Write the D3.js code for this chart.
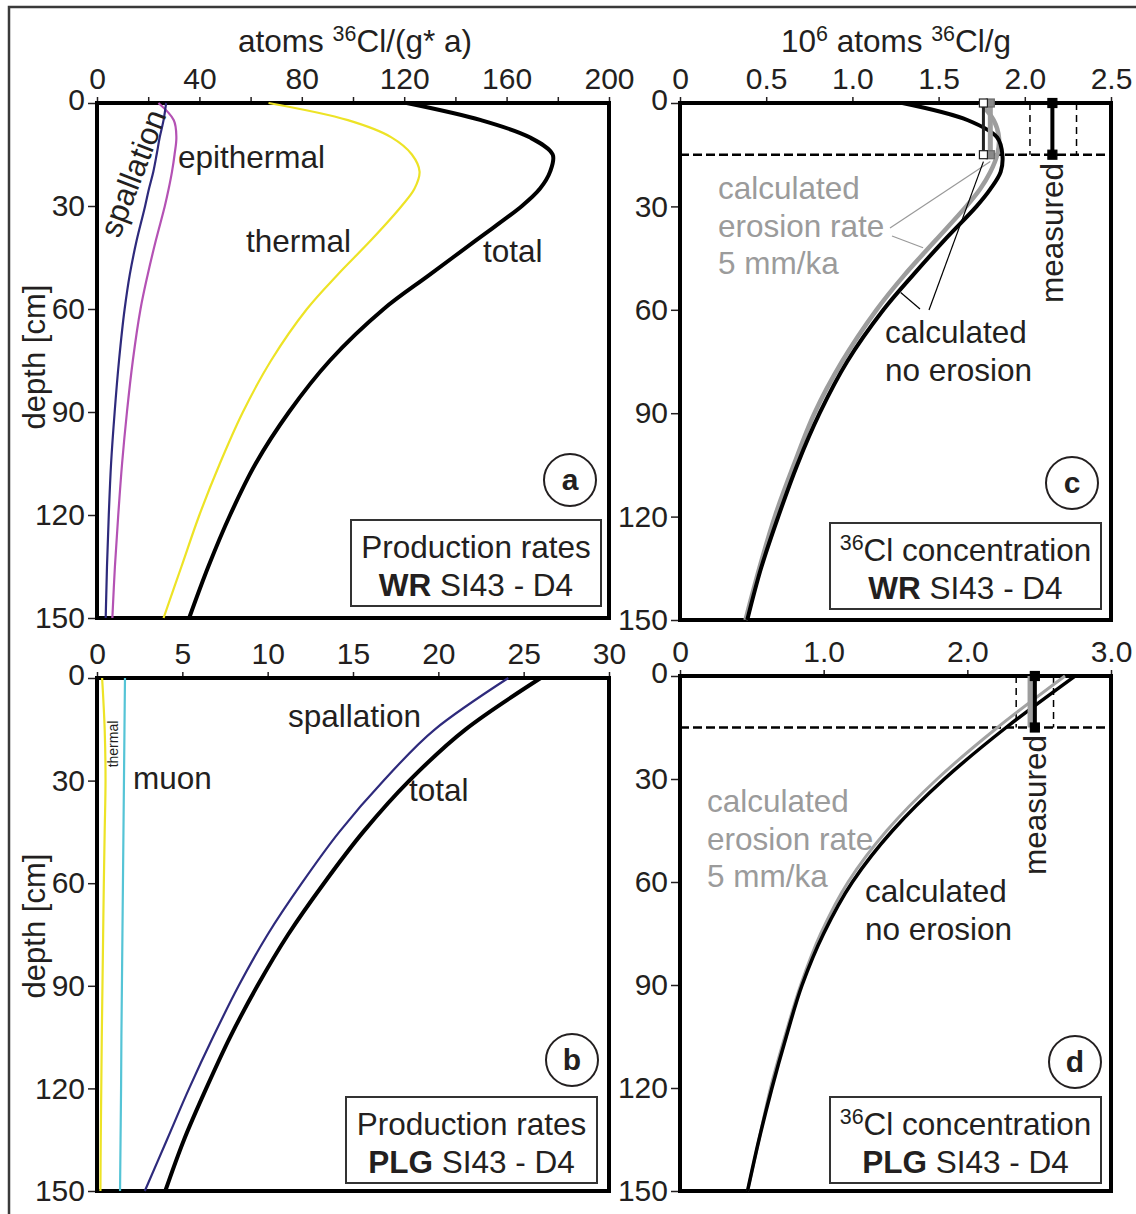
<!DOCTYPE html>
<html><head><meta charset="utf-8">
<script src="https://cdn.jsdelivr.net/npm/d3@7/dist/d3.min.js"></script>
<style>body{margin:0;background:#fff}</style>
</head><body>
<script>
// ---------- data ----------
const depthTicks = [0, 30, 60, 90, 120, 150];

// panel a: production rates WR (atoms 36Cl/(g a))
const depthA = [0, 5, 10, 15, 20, 25, 30, 40, 50, 60, 75, 90, 105, 120, 135, 150];
const spallA = [27, 26, 24.5, 23.3, 22, 20.3, 18.8, 15.5, 12.8, 10.8, 8.6, 6.9, 5.5, 4.6, 3.9, 3.4];
const epiA   = [24, 30, 31, 30.3, 29.3, 28, 26.5, 23, 19.8, 17, 14, 11.7, 9.8, 8.3, 7, 6];
const thermA = [67, 98, 115, 123, 126, 124, 119, 107, 94, 82, 68, 57, 48, 40, 33, 26];
const totalA = [121, 150, 169, 178, 177, 173, 166, 148, 130, 112, 91, 75, 62, 52, 43.5, 36];
const ticksA = [0, 20, 40, 60, 80, 100, 120, 140, 160, 180, 200];
const labelsA = [0, 40, 80, 120, 160, 200];

// panel b: production rates PLG
const depthB = [0, 15, 30, 45, 60, 75, 90, 105, 120, 135, 150];
const spallB = [24.1, 19.8, 16.8, 14.2, 12.0, 10.0, 8.3, 6.8, 5.4, 4.1, 2.8];
const totalB = [26.0, 21.6, 18.3, 15.6, 13.3, 11.2, 9.4, 7.8, 6.4, 5.1, 4.0];
const thermB = [0.3, 0.45, 0.5, 0.45, 0.4, 0.36, 0.32, 0.28, 0.25, 0.22, 0.2];
const muonB  = [1.64, 1.61, 1.58, 1.55, 1.52, 1.49, 1.46, 1.43, 1.41, 1.38, 1.35];
const ticksB = [0, 5, 10, 15, 20, 25, 30];

// panel c: 36Cl concentration WR (10^6 atoms/g)
const depthC = [0, 5, 10, 15, 20, 25, 30, 40, 50, 60, 75, 90, 105, 120, 135, 150];
const noErosionC = [1.29, 1.67, 1.84, 1.87, 1.86, 1.80, 1.72, 1.53, 1.35, 1.18, 0.97, 0.81, 0.68, 0.57, 0.47, 0.39];
const erosionC   = [1.74, 1.82, 1.85, 1.84, 1.80, 1.74, 1.66, 1.48, 1.30, 1.14, 0.94, 0.78, 0.66, 0.55, 0.46, 0.38];
const measuredC = [2.03, 2.16, 2.30];      // low, value, high
const calcBarsC = [1.76, 1.79];            // no erosion, erosion
const ticksC = [0, 0.5, 1.0, 1.5, 2.0, 2.5];

// panel d: 36Cl concentration PLG
const depthD = [0, 15, 30, 45, 60, 75, 90, 105, 120, 135, 150];
const noErosionD = [2.75, 2.27, 1.84, 1.48, 1.20, 1.00, 0.85, 0.74, 0.64, 0.55, 0.47];
const erosionD   = [2.68, 2.21, 1.79, 1.44, 1.17, 0.98, 0.84, 0.73, 0.63, 0.55, 0.47];
const measuredD = [2.34, 2.46, 2.60];
const calcBarsD = [2.44];
const ticksD = [0, 1.0, 2.0, 3.0];

const sampleDepth = [0, 15];

// ---------- drawing ----------
const FONT = "'Liberation Sans', Arial, Helvetica, sans-serif";
const INK = "#231f20";
const GREY = "#9b9b9b";
const LS = 31.5; // label font size
const svg = d3.select("body").append("svg")
  .attr("width", 1136).attr("height", 1214)
  .style("font-family", FONT);

// outer frame (only left & top visible)
svg.append("path").attr("d", "M9,1214V7H1136").attr("fill", "none")
  .attr("stroke", "#3a3a3a").attr("stroke-width", 2.5);

function rich(g, x, y, parts, size, anchor, fill, transform) {
  const t = g.append("text").attr("font-size", size).attr("fill", fill || INK)
    .attr("text-anchor", anchor || "start");
  if (transform) t.attr("transform", transform); else t.attr("x", x).attr("y", y);
  let shift = 0;
  parts.forEach(p => {
    const ts = t.append("tspan").text(p.t);
    if (p.sup) {
      ts.attr("font-size", size * 0.68).attr("dy", -11 - shift); shift = -11;
    } else {
      if (shift !== 0) { ts.attr("dy", -shift); shift = 0; }
    }
    if (p.b) ts.attr("font-weight", "bold");
  });
  return t;
}

function makePanel(cfg) {
  const x = d3.scaleLinear().domain(cfg.xdom).range([cfg.x0, cfg.x1]);
  const y = d3.scaleLinear().domain([0, 150]).range([cfg.y0, cfg.y1]);
  const g = svg.append("g");

  const ax = g.append("g").attr("transform", `translate(0,${cfg.y0})`)
    .call(d3.axisTop(x).tickValues(cfg.ticks).tickSize(6).tickPadding(8).tickSizeOuter(0)
      .tickFormat(d => cfg.labels.includes(d) ? cfg.fmt(d) : ""));
  ax.select(".domain").remove();
  ax.selectAll("line").attr("stroke", INK).attr("stroke-width", 1.5);
  ax.selectAll("text").attr("font-size", 30).attr("font-family", FONT).attr("fill", INK);

  const ay = g.append("g").attr("transform", `translate(${cfg.x0},0)`)
    .call(d3.axisLeft(y).tickValues(depthTicks).tickSize(9).tickPadding(3).tickSizeOuter(0));
  ay.select(".domain").remove();
  ay.selectAll("line").attr("stroke", INK).attr("stroke-width", 1.5);
  ay.selectAll("text").attr("font-size", 30).attr("font-family", FONT).attr("fill", INK);
  ay.selectAll(".tick").filter(d => d === 0).select("text").attr("dy", "0.2em");

  g.append("rect").attr("x", cfg.x0).attr("y", cfg.y0)
    .attr("width", cfg.x1 - cfg.x0).attr("height", cfg.y1 - cfg.y0)
    .attr("fill", "none").attr("stroke", "#000").attr("stroke-width", 4);
  return { x, y, g };
}

function curve(p, depths, vals, color, width, peaked) {
  const line = d3.line().x(d => p.x(d[1])).y(d => p.y(d[0]))
    .curve(peaked ? d3.curveCatmullRom.alpha(0.5) : d3.curveMonotoneY);
  p.g.append("path").datum(depths.map((z, i) => [z, vals[i]])).attr("d", line)
    .attr("fill", "none").attr("stroke", color).attr("stroke-width", width)
    .attr("stroke-linejoin", "round");
}

function legendBox(g, x, y, w, h, line1, line2) {
  g.append("rect").attr("x", x).attr("y", y).attr("width", w).attr("height", h)
    .attr("fill", "#fff").attr("stroke", "#333").attr("stroke-width", 2);
  rich(g, x + w / 2, y + 38, line1, LS, "middle");
  rich(g, x + w / 2, y + 76, line2, LS, "middle");
}
function circleLabel(g, cx, cy, letter) {
  g.append("circle").attr("cx", cx).attr("cy", cy).attr("r", 26)
    .attr("fill", "#fff").attr("stroke", INK).attr("stroke-width", 2);
  g.append("text").attr("x", cx).attr("y", cy + 10).attr("text-anchor", "middle")
    .attr("font-size", 30).attr("font-weight", "bold").attr("fill", INK).text(letter);
}
function label(g, x, y, txt, size, fill, transform) {
  const t = g.append("text").attr("font-size", size).attr("fill", fill || INK).text(txt);
  if (transform) t.attr("transform", transform); else t.attr("x", x).attr("y", y);
  return t;
}

const fmtInt = d => String(d);
const fmt1 = d => d === 0 ? "0" : d.toFixed(1);

// ---- panel a ----
const pa = makePanel({ x0: 97, x1: 609, y0: 103, y1: 618, xdom: [0, 200], ticks: ticksA, labels: labelsA, fmt: fmtInt });
curve(pa, depthA, thermA, "#ede326", 2.2, true);
curve(pa, depthA, epiA, "#b452b4", 2.2, true);
curve(pa, depthA, spallA, "#2e2a7c", 2.2);
curve(pa, depthA, totalA, "#000", 4, true);
rich(svg, 355, 52, [{ t: "atoms " }, { t: "36", sup: 1 }, { t: "Cl/(g* a)" }], LS, "middle");
label(svg, 0, 0, "depth [cm]", 31, INK, "translate(45,357) rotate(-90)").attr("text-anchor", "middle");
label(pa.g, 0, 0, "spallation", LS, INK, "translate(143,177) rotate(-69)").attr("text-anchor", "middle");
label(pa.g, 178, 168, "epithermal", LS);
label(pa.g, 246, 252, "thermal", LS);
label(pa.g, 483, 262, "total", LS);
circleLabel(pa.g, 570, 480, "a");
legendBox(pa.g, 351, 520, 250, 86, [{ t: "Production rates" }], [{ t: "WR", b: 1 }, { t: " SI43 - D4" }]);

// ---- panel b ----
const pb = makePanel({ x0: 97, x1: 609, y0: 678, y1: 1191, xdom: [0, 30], ticks: ticksB, labels: ticksB, fmt: fmtInt });
curve(pb, depthB, thermB, "#ede326", 2.2, true);
curve(pb, depthB, muonB, "#55c4d6", 2.2);
curve(pb, depthB, spallB, "#2e2a7c", 2.2);
curve(pb, depthB, totalB, "#000", 4);
label(svg, 0, 0, "depth [cm]", 31, INK, "translate(45,926) rotate(-90)").attr("text-anchor", "middle");
label(pb.g, 288, 727, "spallation", LS);
label(pb.g, 409, 801, "total", LS);
label(pb.g, 133, 789, "muon", LS);
label(pb.g, 0, 0, "thermal", 14, INK, "translate(118,744) rotate(-90)").attr("text-anchor", "middle");
circleLabel(pb.g, 572, 1060, "b");
legendBox(pb.g, 346, 1097, 251, 86, [{ t: "Production rates" }], [{ t: "PLG", b: 1 }, { t: " SI43 - D4" }]);

// ---- measured / calculated bars ----
function measured(p, vals) {
  const g = p.g;
  const [lo, v, hi] = vals;
  g.append("line").attr("x1", p.x.range()[0]).attr("x2", p.x.range()[1])
    .attr("y1", p.y(sampleDepth[1])).attr("y2", p.y(sampleDepth[1]))
    .attr("stroke", "#000").attr("stroke-width", 2.5).attr("stroke-dasharray", "9,4");
  [lo, hi].forEach(d => g.append("line").attr("x1", p.x(d)).attr("x2", p.x(d))
    .attr("y1", p.y(sampleDepth[0])).attr("y2", p.y(sampleDepth[1]))
    .attr("stroke", "#000").attr("stroke-width", 1.5).attr("stroke-dasharray", "7,5"));
}
function bar(p, v, color, width, sqFill, sqStroke, size) {
  p.g.append("line").attr("x1", p.x(v)).attr("x2", p.x(v))
    .attr("y1", p.y(sampleDepth[0])).attr("y2", p.y(sampleDepth[1]))
    .attr("stroke", color).attr("stroke-width", width);
  if (size > 0) sampleDepth.forEach(z => p.g.append("rect")
    .attr("x", p.x(v) - size / 2).attr("y", p.y(z) - size / 2)
    .attr("width", size).attr("height", size)
    .attr("fill", sqFill).attr("stroke", sqStroke).attr("stroke-width", 1.2));
}

// ---- panel c ----
const pc = makePanel({ x0: 680, x1: 1111, y0: 103, y1: 620, xdom: [0, 2.5], ticks: ticksC, labels: ticksC, fmt: fmt1 });
measured(pc, measuredC);
curve(pc, depthC, erosionC, "#9d9d9d", 4.5, true);
curve(pc, depthC, noErosionC, "#000", 4, true);
bar(pc, calcBarsC[1] + 0.01, "#9d9d9d", 5, "#8a8a8a", "#6a6a6a", 8);
bar(pc, calcBarsC[0], "#222", 3, "#fff", "#222", 8);
bar(pc, measuredC[1], "#000", 4, "#000", "#000", 9);
rich(svg, 896, 52, [{ t: "10" }, { t: "6", sup: 1 }, { t: " atoms " }, { t: "36", sup: 1 }, { t: "Cl/g" }], LS, "middle");
label(pc.g, 0, 0, "measured", LS, INK, "translate(1063,233) rotate(-90)").attr("text-anchor", "middle");
label(pc.g, 718, 199, "calculated", LS, GREY);
label(pc.g, 718, 237, "erosion rate", LS, GREY);
label(pc.g, 718, 274, "5 mm/ka", LS, GREY);
label(pc.g, 885, 343, "calculated", LS);
label(pc.g, 885, 381, "no erosion", LS);
// leader lines
function leader(p, px, py, v, z, color) {
  p.g.append("line").attr("x1", px).attr("y1", py).attr("x2", p.x(v)).attr("y2", p.y(z))
    .attr("stroke", color).attr("stroke-width", 1.2);
}
leader(pc, 890, 228, calcBarsC[1] + 0.01, 17, "#999");
leader(pc, 892, 236, 1.41, 42, "#999");
leader(pc, 929, 310, calcBarsC[0], 17, "#000");
leader(pc, 920, 309, 1.28, 55, "#000");
circleLabel(pc.g, 1072, 483, "c");
legendBox(pc.g, 830, 523, 271, 86, [{ t: "36", sup: 1 }, { t: "Cl concentration" }], [{ t: "WR", b: 1 }, { t: " SI43 - D4" }]);

// ---- panel d ----
const pd = makePanel({ x0: 680, x1: 1111, y0: 676, y1: 1191, xdom: [0, 3.0], ticks: ticksD, labels: ticksD, fmt: fmt1 });
measured(pd, measuredD);
curve(pd, depthD, erosionD, "#a3a3a3", 3);
curve(pd, depthD, noErosionD, "#000", 3.5);
bar(pd, calcBarsD[0], "#9d9d9d", 6, "#8a8a8a", "#8a8a8a", 0);
bar(pd, measuredD[1] + 0.01, "#000", 4, "#000", "#000", 9);
label(pd.g, 0, 0, "measured", LS, INK, "translate(1046,805) rotate(-90)").attr("text-anchor", "middle");
label(pd.g, 707, 812, "calculated", LS, GREY);
label(pd.g, 707, 850, "erosion rate", LS, GREY);
label(pd.g, 707, 887, "5 mm/ka", LS, GREY);
label(pd.g, 865, 902, "calculated", LS);
label(pd.g, 865, 940, "no erosion", LS);
circleLabel(pd.g, 1075, 1062, "d");
legendBox(pd.g, 830, 1097, 271, 86, [{ t: "36", sup: 1 }, { t: "Cl concentration" }], [{ t: "PLG", b: 1 }, { t: " SI43 - D4" }]);
</script>
</body></html>
